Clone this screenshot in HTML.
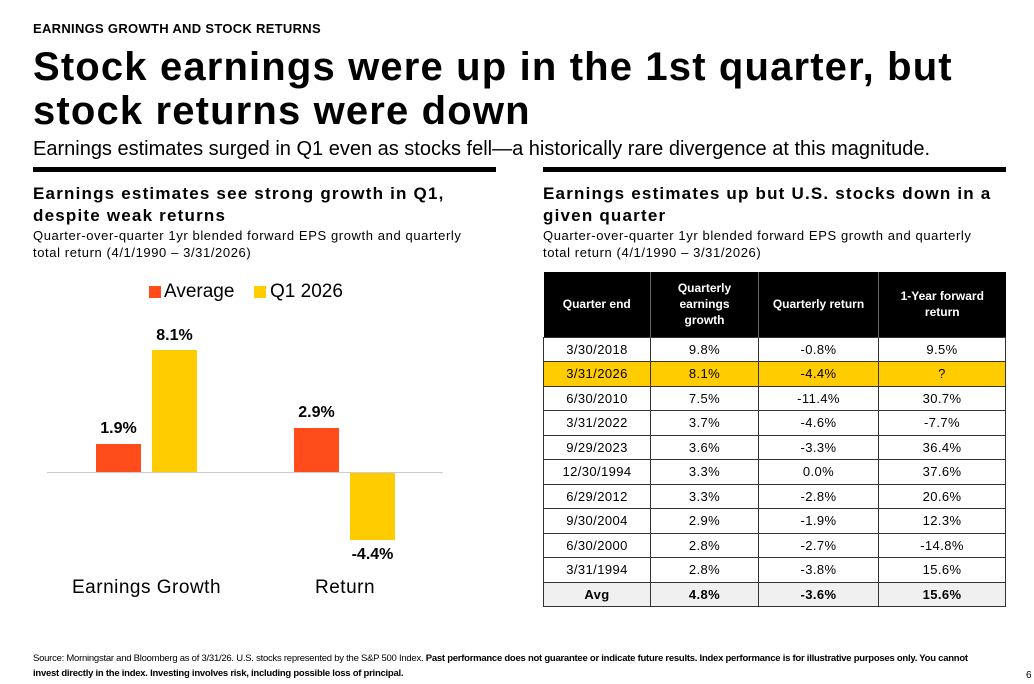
<!DOCTYPE html>
<html><head><meta charset="utf-8"><style>
*{margin:0;padding:0;box-sizing:border-box}
body{width:1034px;height:684px;background:#fff;font-family:"Liberation Sans",sans-serif;color:#000;position:relative;overflow:hidden}
.a{position:absolute;white-space:nowrap}
table{position:absolute;left:543px;top:272px;width:463px;border-collapse:collapse;font-size:13px}
th{background:#000;color:#fff;font-weight:bold;font-size:12px;height:65px;border-left:1px solid #666;line-height:16px}
td{height:24.5px;text-align:center;border:1px solid #333;padding:0;letter-spacing:.4px}
tr.y td{background:#ffcc00}
tr.avg td{background:#f0f0f0;font-weight:bold}
</style></head><body>
<div class="a" style="left:33px;top:21px;font-size:13px;font-weight:bold;letter-spacing:.3px">EARNINGS GROWTH AND STOCK RETURNS</div>
<div class="a" style="left:33px;top:45px;font-size:40px;font-weight:900;line-height:44px;letter-spacing:1.15px">Stock earnings were up in the 1st quarter, but<br>stock returns were down</div>
<div class="a" style="left:33px;top:138px;font-size:20px">Earnings estimates surged in Q1 even as stocks fell—a historically rare divergence at this magnitude.</div>
<div class="a" style="left:33px;top:167px;width:463px;height:5px;background:#000"></div>
<div class="a" style="left:543px;top:167px;width:463px;height:5px;background:#000"></div>
<div class="a" style="left:33px;top:183px;font-size:17px;font-weight:bold;line-height:22px;letter-spacing:1.2px">Earnings estimates see strong growth in Q1,<br>despite weak returns</div>
<div class="a" style="left:33px;top:227px;font-size:13px;line-height:17px;letter-spacing:.6px">Quarter-over-quarter 1yr blended forward EPS growth and quarterly<br>total return (4/1/1990 – 3/31/2026)</div>
<div class="a" style="left:543px;top:183px;font-size:17px;font-weight:bold;line-height:22px;letter-spacing:1.2px">Earnings estimates up but U.S. stocks down in a<br>given quarter</div>
<div class="a" style="left:543px;top:227px;font-size:13px;line-height:17px;letter-spacing:.6px">Quarter-over-quarter 1yr blended forward EPS growth and quarterly<br>total return (4/1/1990 – 3/31/2026)</div>
<div class="a" style="left:149px;top:286px;width:12px;height:12px;background:#ff4c1a"></div>
<div class="a" style="left:164px;top:281px;font-size:19px">Average</div>
<div class="a" style="left:254px;top:286px;width:12px;height:12px;background:#ffcc00"></div>
<div class="a" style="left:270px;top:281px;font-size:19px">Q1 2026</div>
<div class="a" style="left:47px;top:472px;width:396px;height:1px;background:#ccc"></div>
<div class="a" style="left:96px;top:444px;width:45px;height:28px;background:#ff4c1a"></div>
<div class="a" style="left:152px;top:350px;width:45px;height:122px;background:#ffcc00"></div>
<div class="a" style="left:294px;top:428px;width:45px;height:44px;background:#ff4c1a"></div>
<div class="a" style="left:350px;top:473px;width:45px;height:67px;background:#ffcc00"></div>
<div class="a" style="left:96px;top:420px;width:45px;text-align:center;font-size:16px;font-weight:bold">1.9%</div>
<div class="a" style="left:152px;top:327px;width:45px;text-align:center;font-size:16px;font-weight:bold">8.1%</div>
<div class="a" style="left:294px;top:404px;width:45px;text-align:center;font-size:16px;font-weight:bold">2.9%</div>
<div class="a" style="left:345px;top:546px;width:55px;text-align:center;font-size:16px;font-weight:bold">-4.4%</div>
<div class="a" style="left:72px;top:577px;font-size:19px;letter-spacing:.5px">Earnings Growth</div>
<div class="a" style="left:315px;top:577px;font-size:19px;letter-spacing:.5px">Return</div>
<table>
<tr><th style="border-left:none">Quarter end</th><th>Quarterly<br>earnings<br>growth</th><th>Quarterly return</th><th>1-Year forward<br>return</th></tr>
<tr><td style="width:107px">3/30/2018</td><td style="width:108px">9.8%</td><td style="width:120px">-0.8%</td><td>9.5%</td></tr>
<tr class="y"><td>3/31/2026</td><td>8.1%</td><td>-4.4%</td><td>?</td></tr>
<tr><td>6/30/2010</td><td>7.5%</td><td>-11.4%</td><td>30.7%</td></tr>
<tr><td>3/31/2022</td><td>3.7%</td><td>-4.6%</td><td>-7.7%</td></tr>
<tr><td>9/29/2023</td><td>3.6%</td><td>-3.3%</td><td>36.4%</td></tr>
<tr><td>12/30/1994</td><td>3.3%</td><td>0.0%</td><td>37.6%</td></tr>
<tr><td>6/29/2012</td><td>3.3%</td><td>-2.8%</td><td>20.6%</td></tr>
<tr><td>9/30/2004</td><td>2.9%</td><td>-1.9%</td><td>12.3%</td></tr>
<tr><td>6/30/2000</td><td>2.8%</td><td>-2.7%</td><td>-14.8%</td></tr>
<tr><td>3/31/1994</td><td>2.8%</td><td>-3.8%</td><td>15.6%</td></tr>
<tr class="avg"><td>Avg</td><td>4.8%</td><td>-3.6%</td><td>15.6%</td></tr>
</table>
<div class="a" style="left:33px;top:651px;font-size:9.5px;line-height:15px;letter-spacing:-.25px">Source: Morningstar and Bloomberg as of 3/31/26. U.S. stocks represented by the S&amp;P 500 Index. <b>Past performance does not guarantee or indicate future results. Index performance is for illustrative purposes only. You cannot<br>invest directly in the index. Investing involves risk, including possible loss of principal.</b></div>
<div class="a" style="left:1026px;top:670px;font-size:10px">6</div>
</body></html>
